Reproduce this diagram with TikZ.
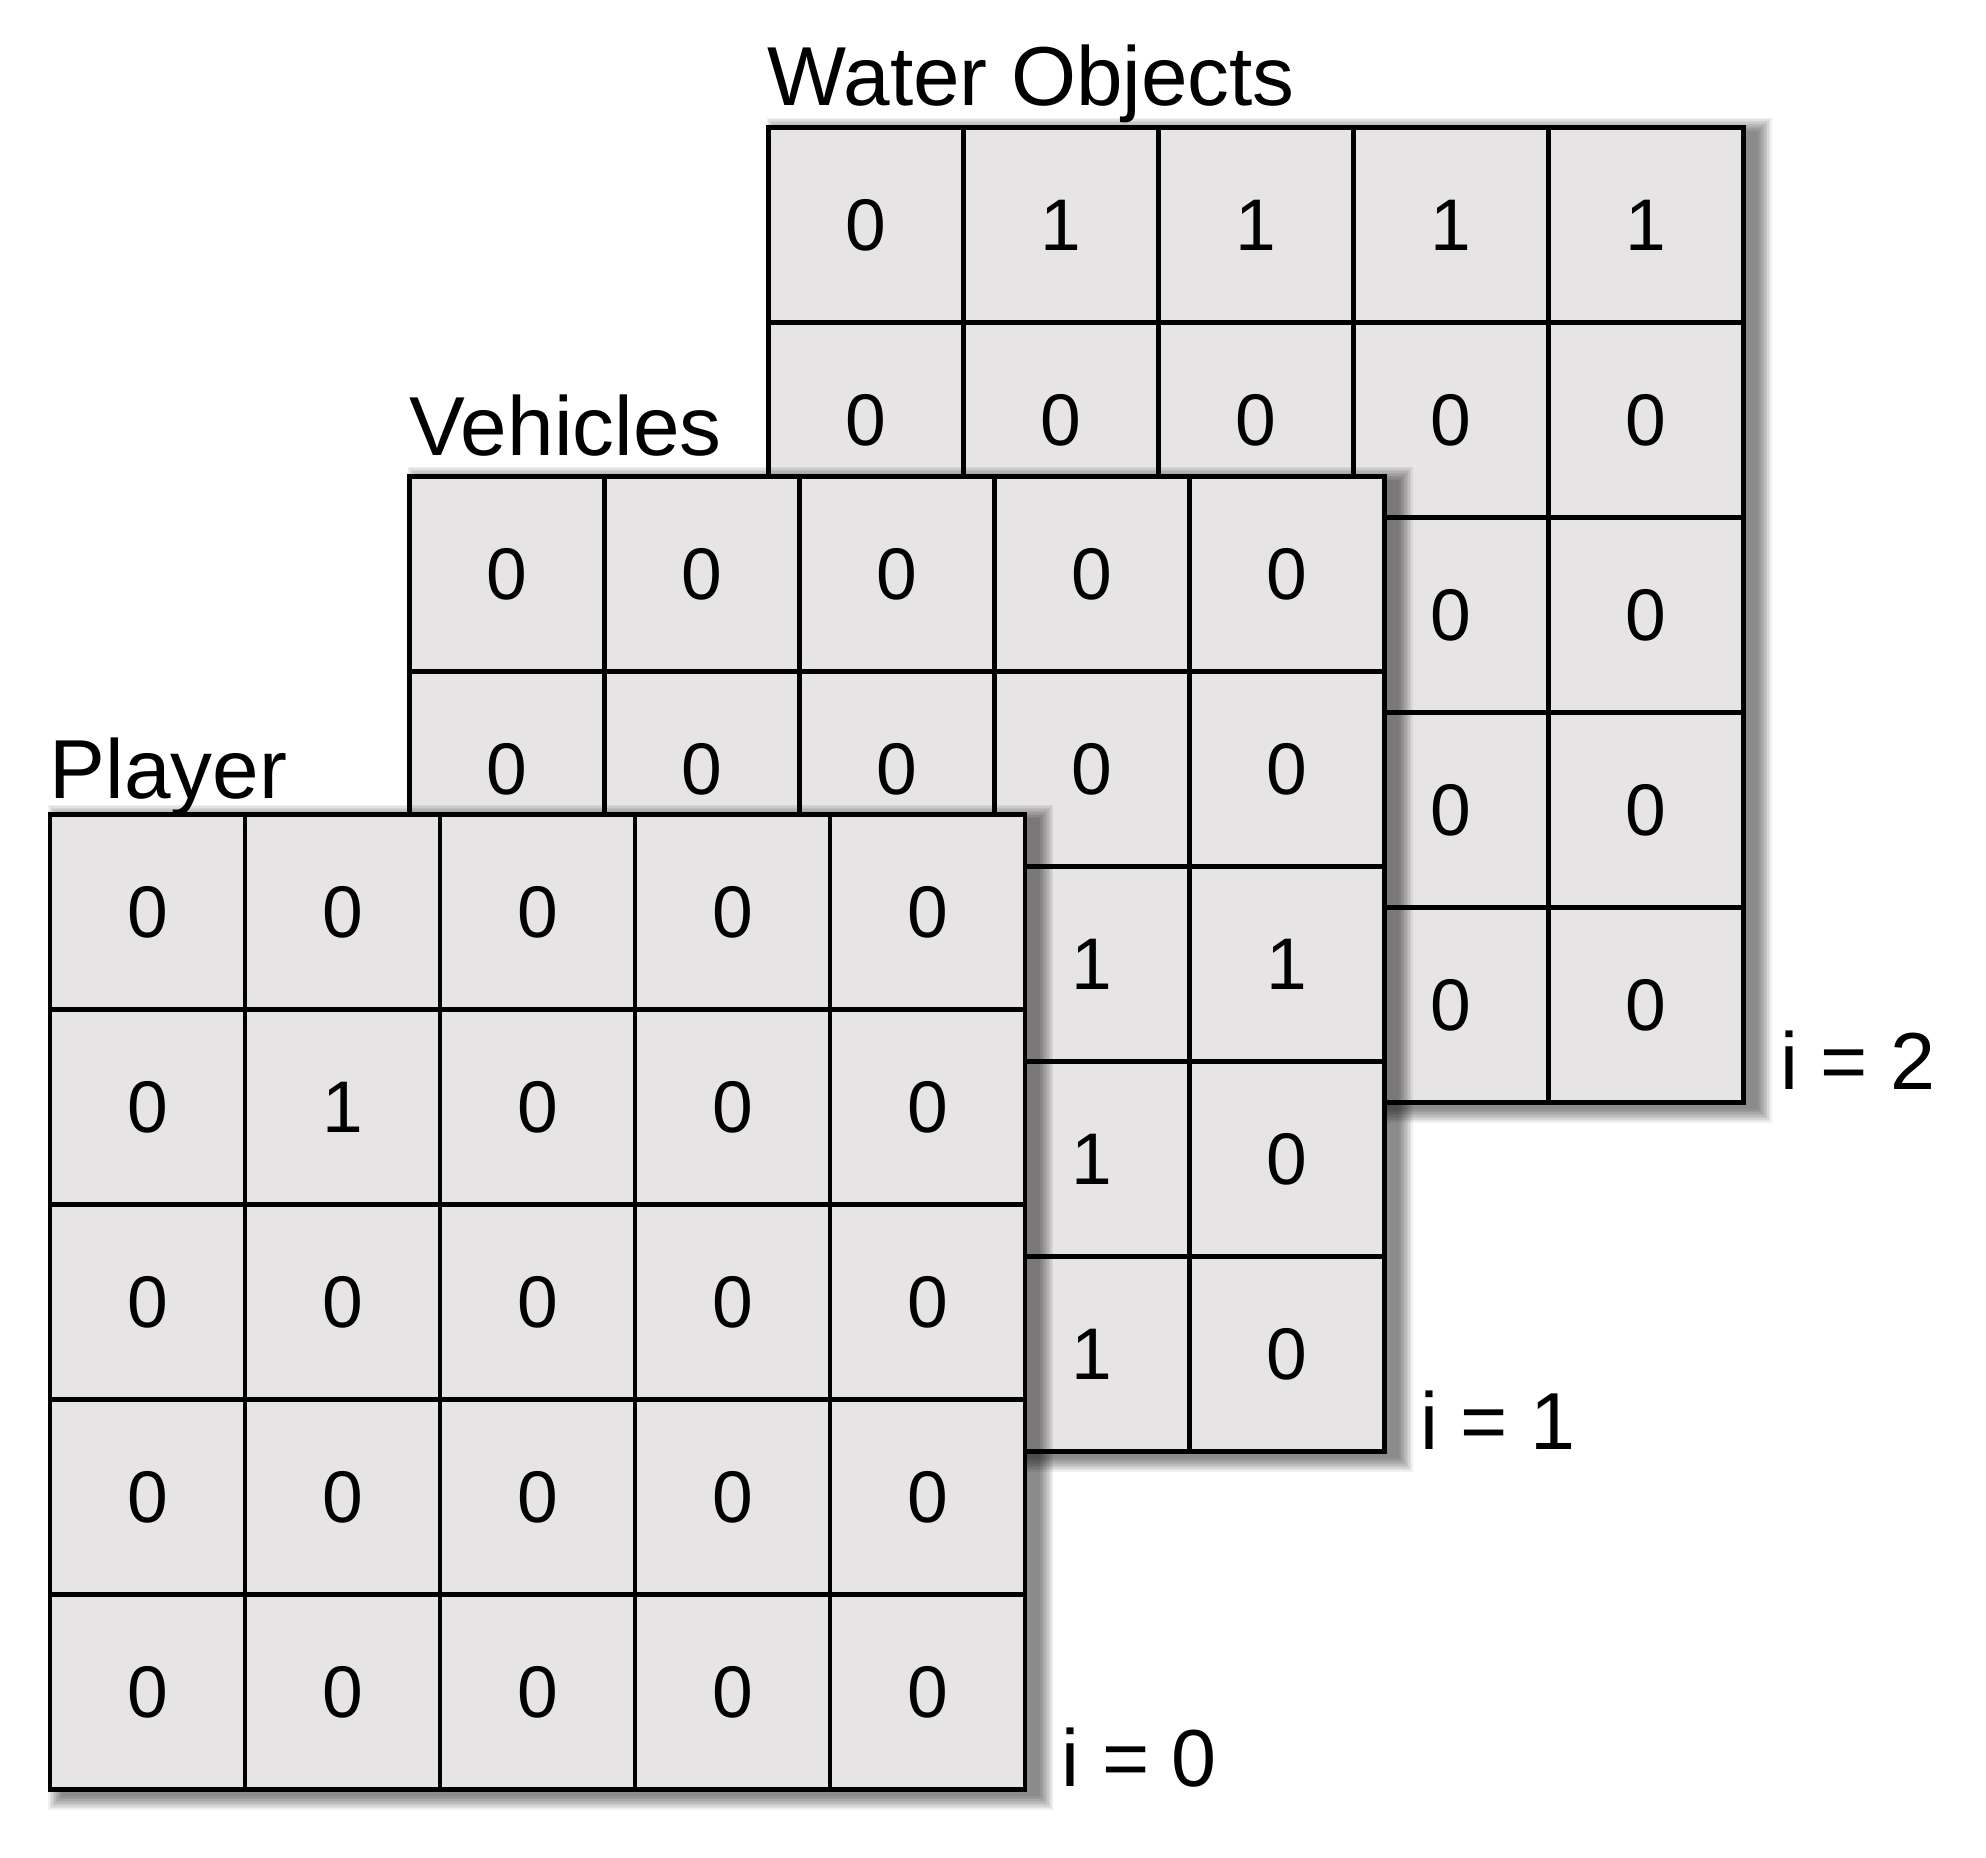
\documentclass[tikz,border=0pt]{standalone}
\usepackage{fontspec}
\setmainfont{Liberation Sans}
\definecolor{cellgray}{RGB}{230,228,229}
\tikzset{
  cell/.style={draw=black, fill=cellgray, line width=1.3pt, minimum size=1.95cm, inner sep=0pt, font=\fontsize{20.8}{25}\selectfont},
  title/.style={anchor=base west, inner sep=0pt, font=\fontsize{23.8}{28}\selectfont},
  index/.style={anchor=base west, inner sep=0pt, font=\fontsize{23}{28}\selectfont}
}
% soft shadow under a 5x5 grid, top left corner given in px
\newcommand{\gridshadow}[2]{%
  \foreach \k in {1,...,10}{
    \fill[black, opacity=0.06] ({#1+13-1.5*\k},{#2+5-1.5*\k}) rectangle ({#1+975+13+1.5*\k},{#2+975+5+1.5*\k});
  }
}
\begin{document}
\begin{tikzpicture}[x=0.01cm, y=-0.01cm]
\useasboundingbox (0,0) rectangle (1986,1857);

% i = 2
\gridshadow{768.5}{127.5}
\foreach \row [count=\r] in {{0,1,1,1,1},{0,0,0,0,0},{,,,0,0},{,,,0,0},{,,,0,0}}{
  \foreach \v [count=\c] in \row {
    \node[cell] (wat-\r-\c) at ({768.5+(\c-0.5)*195},{127.5+(\r-0.5)*195}) {\v};
  }
}
\node[title] (wat-name) at (767,105) {Water Objects};
\node[index] (wat-i) at (1779.5,1089) {i = 2};

% i = 1
\gridshadow{409.5}{476.5}
\foreach \row [count=\r] in {{0,0,0,0,0},{0,0,0,0,0},{,,,1,1},{,,,1,0},{,,,1,0}}{
  \foreach \v [count=\c] in \row {
    \node[cell] (veh-\r-\c) at ({409.5+(\c-0.5)*195},{476.5+(\r-0.5)*195}) {\v};
  }
}
\node[title] (veh-name) at (409,455) {Vehicles};
\node[index] (veh-i) at (1419.5,1449) {i = 1};

% i = 0
\gridshadow{50}{814.5}
\foreach \row [count=\r] in {{0,0,0,0,0},{0,1,0,0,0},{0,0,0,0,0},{0,0,0,0,0},{0,0,0,0,0}}{
  \foreach \v [count=\c] in \row {
    \node[cell] (ply-\r-\c) at ({50+(\c-0.5)*195},{814.5+(\r-0.5)*195}) {\v};
  }
}
\node[title] (ply-name) at (49,798) {Player};
\node[index] (ply-i) at (1061,1786) {i = 0};
\end{tikzpicture}
\end{document}
